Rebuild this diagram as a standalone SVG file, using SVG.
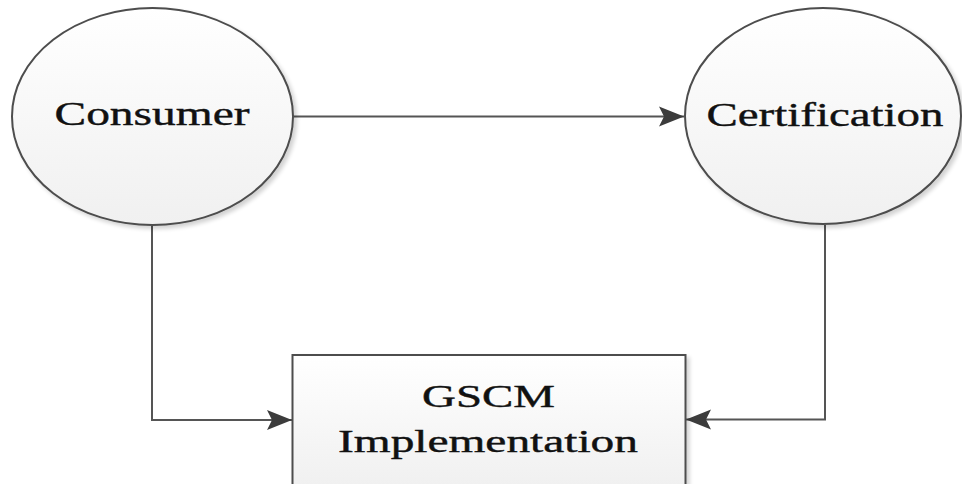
<svg xmlns="http://www.w3.org/2000/svg" width="962" height="484" viewBox="0 0 962 484">
  <defs>
    <linearGradient id="fill" x1="0" y1="0" x2="0" y2="1">
      <stop offset="0" stop-color="#ffffff"/>
      <stop offset="1" stop-color="#f0f0f0"/>
    </linearGradient>
    <filter id="shadow" x="-10%" y="-10%" width="120%" height="120%">
      <feGaussianBlur in="SourceAlpha" stdDeviation="2"/>
      <feOffset dx="3" dy="3" result="b"/>
      <feComponentTransfer><feFuncA type="linear" slope="0.18"/></feComponentTransfer>
      <feMerge><feMergeNode/><feMergeNode in="SourceGraphic"/></feMerge>
    </filter>
    <marker id="arrow" markerUnits="userSpaceOnUse" markerWidth="26" markerHeight="22" refX="25" refY="11" orient="auto">
      <path d="M0,1 L25,11 L0,21 L5,11 Z" fill="#3c3c3c"/>
    </marker>
  </defs>
  <style>
    .node { fill: url(#fill); stroke: #4d4d4d; stroke-width: 2; filter: url(#shadow); }
    .conn { fill: none; stroke: #555555; stroke-width: 2; marker-end: url(#arrow); }
    .label { font-family: "Liberation Serif", "Times New Roman", serif; fill: #111111; text-anchor: middle; stroke: #111111; stroke-width: 0.4; }
  </style>
  <rect width="962" height="484" fill="#ffffff"/>
  <g id="connectors">
    <path class="conn" d="M293,116.5 L684,116.5"/>
    <path class="conn" d="M152,226 L152,420 L292,420"/>
    <path class="conn" d="M825,225 L825,419.5 L686,419.5"/>
  </g>
  <g id="consumer">
    <ellipse class="node" cx="152.5" cy="116.5" rx="140.5" ry="108.5"/>
    <text class="label" x="152" y="125" font-size="34" textLength="195" lengthAdjust="spacingAndGlyphs">Consumer</text>
  </g>
  <g id="certification">
    <ellipse class="node" cx="823" cy="116" rx="138" ry="108"/>
    <text class="label" x="825" y="126" font-size="34" textLength="237" lengthAdjust="spacingAndGlyphs">Certification</text>
  </g>
  <g id="gscm">
    <rect class="node" x="292.5" y="355" width="393" height="132"/>
    <text class="label" x="488.5" y="407" font-size="31" textLength="133" lengthAdjust="spacingAndGlyphs">GSCM</text>
    <text class="label" x="488" y="452" font-size="31" textLength="300" lengthAdjust="spacingAndGlyphs">Implementation</text>
  </g>
</svg>
